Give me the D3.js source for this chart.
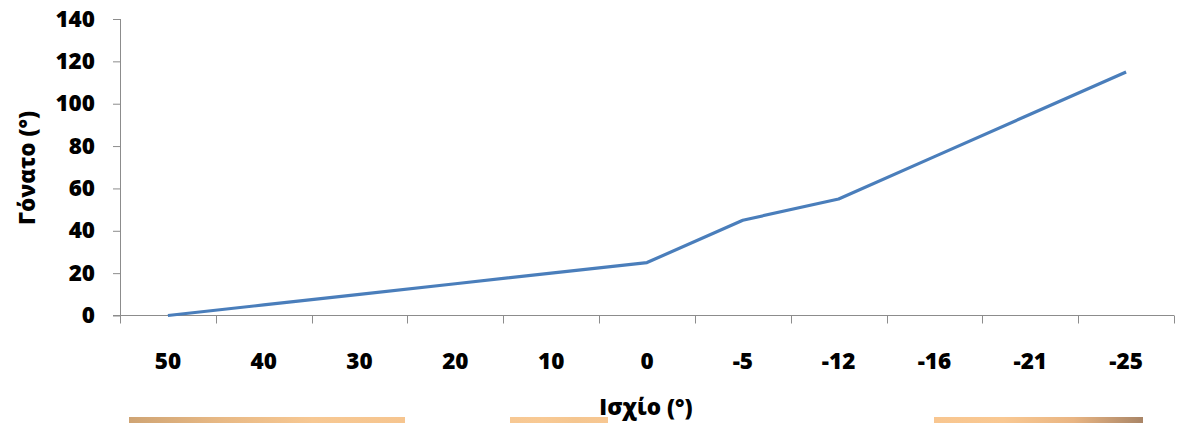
<!DOCTYPE html>
<html>
<head>
<meta charset="utf-8">
<script src="https://cdn.jsdelivr.net/npm/d3@7"></script>
<style>
  html, body { margin: 0; padding: 0; background: #fff; }
  svg { display: block; }
  text { font-family: "Open Sans", Lato, sans-serif; font-weight: 800; fill: #000; }
</style>
</head>
<body>
<svg id="chart" width="1179" height="423"></svg>
<script>
// Hip angle categories (x axis) and the knee angle at each (y axis)
const hipAngles = ["50", "40", "30", "20", "10", "0", "-5", "-12", "-16", "-21", "-25"];
const kneeAngles = [0, 5, 10, 15, 20, 25, 45, 55, 75, 95, 115];
const yTicks = [0, 20, 40, 60, 80, 100, 120, 140];

// Decorative strips along the bottom edge (start, end in px, gradient stops)
const strips = [
  { x0: 129, x1: 405, stops: ["#cfa474", "#e8b985", "#f7c893", "#f6c58f"] },
  { x0: 510, x1: 608, stops: ["#f7c893", "#f8c994", "#f5c690", "#f7c792"] },
  { x0: 934, x1: 1143, stops: ["#f8c690", "#f9c892", "#e9b583", "#a98567"] }
];

const svg = d3.select("#chart");
const plot = { left: 120, right: 1174, top: 19, bottom: 315.5 };
const fontSize = 22.5;

const x = d3.scaleBand().domain(hipAngles).range([plot.left, plot.right]);
const y = d3.scaleLinear().domain([0, 140]).range([plot.bottom, plot.top]);

const axisColor = "#8c8c8c";

// Y axis
const yAxis = svg.append("g")
  .attr("transform", `translate(${plot.left},0)`)
  .call(d3.axisLeft(y).tickValues(yTicks).tickSize(7).tickPadding(18));
yAxis.select(".domain").attr("stroke", axisColor).attr("d", `M0.5,${plot.top}V${plot.bottom}`);
yAxis.selectAll(".tick line").attr("stroke", axisColor);
yAxis.selectAll(".tick text")
  .attr("font-size", fontSize)
  .attr("font-family", "'Open Sans', Lato, sans-serif")
  .attr("font-weight", 800)
  .attr("fill", "#000");

// X axis: tick marks on band boundaries, labels at band centres
const xg = svg.append("g").attr("transform", `translate(0,${plot.bottom})`);
xg.append("line")
  .attr("x1", plot.left - 7).attr("x2", plot.right)
  .attr("stroke", axisColor).attr("stroke-width", 1);
const boundaries = hipAngles.map(d => x(d)).concat([x(hipAngles[hipAngles.length - 1]) + x.bandwidth()]);
xg.selectAll("line.tk").data(boundaries).join("line")
  .attr("class", "tk")
  .attr("x1", d => Math.round(d) + 0.5).attr("x2", d => Math.round(d) + 0.5)
  .attr("y1", 0).attr("y2", 8)
  .attr("stroke", axisColor);
xg.selectAll("text").data(hipAngles).join("text")
  .attr("x", d => x(d) + x.bandwidth() / 2)
  .attr("y", 53)
  .attr("text-anchor", "middle")
  .attr("font-size", fontSize)
  .text(d => d);

// Knee angle line
const line = d3.line()
  .x((d, i) => x(hipAngles[i]) + x.bandwidth() / 2)
  .y(d => y(d));
svg.append("path")
  .datum(kneeAngles)
  .attr("d", line)
  .attr("fill", "none")
  .attr("stroke", "#4a7ebb")
  .attr("stroke-width", 3.2)
  .attr("stroke-linejoin", "round");

// Axis titles
svg.append("text")
  .attr("transform", `translate(35,168) rotate(-90)`)
  .attr("text-anchor", "middle")
  .attr("font-size", fontSize)
  .text("Γόνατο (°)");

svg.append("text")
  .attr("x", 646)
  .attr("y", 415)
  .attr("text-anchor", "middle")
  .attr("font-size", fontSize)
  .text("Ισχίο (°)");

// Bottom strips
const defs = svg.append("defs");
strips.forEach((s, i) => {
  const g = defs.append("linearGradient").attr("id", "strip" + i);
  s.stops.forEach((c, j) => g.append("stop").attr("offset", j / (s.stops.length - 1)).attr("stop-color", c));
  svg.append("rect")
    .attr("x", s.x0).attr("y", 417)
    .attr("width", s.x1 - s.x0).attr("height", 6)
    .attr("fill", `url(#strip${i})`);
});
</script>
</body>
</html>
